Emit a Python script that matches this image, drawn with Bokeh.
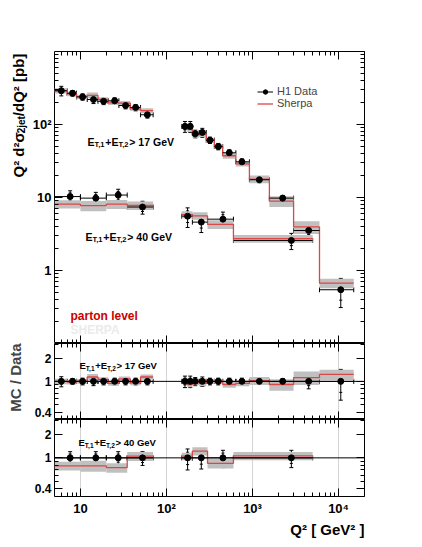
import math
from bokeh.plotting import figure
from bokeh.models import (Range1d, LogAxis, FixedTicker, CustomJSTickFormatter, Label, Span,
                          Whisker, TeeHead, ColumnDataSource, Legend, LegendItem, Title)
from bokeh.layouts import column, row
from bokeh.embed import file_html
from bokeh.resources import INLINE

# ---------------- data ----------------
# E_T1+E_T2 > 17 GeV, low Q2
edges17_lo = [5, 7, 9, 12, 16, 21, 28, 38, 50, 70]
q17_lo = [6.0, 8.1, 10.6, 14.2, 18.6, 25.0, 33.5, 43.8, 60.0]
data17_lo = [290, 268, 239, 220, 208, 211, 182, 171, 136]
err17_lo = [0.15, 0.09, 0.10, 0.12, 0.10, 0.10, 0.10, 0.10, 0.10]
stat17_lo = [0.08, 0.05, 0.06, 0.07, 0.06, 0.06, 0.06, 0.06, 0.06]
ratio17_lo = [1.0, 0.98, 1.0, 1.14, 1.06, 0.94, 1.08, 0.96, 1.14]
band17_lo = [0.08, 0.07, 0.07, 0.09, 0.07, 0.07, 0.07, 0.07, 0.08]

# E_T1+E_T2 > 17 GeV, high Q2
edges17_hi = [150, 175, 200, 240, 290, 360, 450, 640, 920, 1570, 3000, 6000, 15000]
q17_hi = [164, 189, 216, 261, 320, 400, 537, 753, 1200, 2240, 4490, 10600]
data17_hi = [94, 94, 74.6, 77.7, 61, 50, 41, 30.8, 17.5, 9.8, 3.53, 0.545]
err17_hi = [0.17, 0.17, 0.12, 0.14, 0.10, 0.10, 0.10, 0.10, 0.09, 0.09, 0.20, 0.43]
stat17_hi = [0.10, 0.10, 0.07, 0.08, 0.06, 0.06, 0.06, 0.06, 0.05, 0.05, 0.12, 0.28]
ratio17_hi = [1.0, 0.91, 0.97, 0.94, 1.0, 1.0, 0.91, 0.94, 1.02, 0.91, 1.12, 1.23]
band17_hi = [0.08, 0.08, 0.08, 0.08, 0.07, 0.07, 0.09, 0.08, 0.12, 0.17, 0.20, 0.15]

# E_T1+E_T2 > 40 GeV, low Q2
edges40_lo = [5, 10, 20, 35, 70]
q40_lo = [7.6, 15.1, 27.5, 52.7]
data40_lo = [10.3, 9.8, 10.8, 7.4]
err40_lo = [0.20, 0.20, 0.20, 0.20]
stat40_lo = [0.12, 0.12, 0.12, 0.13]
ratio40_lo = [0.79, 0.79, 0.75, 1.05]
band40_lo = [0.13, 0.16, 0.14, 0.13]

# E_T1+E_T2 > 40 GeV, high Q2
edges40_hi = [150, 200, 300, 600, 5000]
q40_hi = [176, 254, 453, 2825]
data40_hi = [5.55, 4.6, 5.05, 2.58]
err40_hi = [0.30, 0.28, 0.25, 0.25]
stat40_hi = [0.18, 0.17, 0.15, 0.15]
ratio40_hi = [1.05, 1.22, 0.85, 1.06]
band40_hi = [0.11, 0.12, 0.14, 0.12]

series = [
    (edges17_lo, q17_lo, data17_lo, err17_lo, stat17_lo, ratio17_lo, band17_lo, 1),
    (edges17_hi, q17_hi, data17_hi, err17_hi, stat17_hi, ratio17_hi, band17_hi, 1),
    (edges40_lo, q40_lo, data40_lo, err40_lo, stat40_lo, ratio40_lo, band40_lo, 2),
    (edges40_hi, q40_hi, data40_hi, err40_hi, stat40_hi, ratio40_hi, band40_hi, 2),
]

x_major = [10, 100, 1000, 10000]
x_minor = [6, 7, 8, 9, 20, 30, 40, 50, 60, 70, 80, 90, 200, 300, 400, 500, 600, 700, 800, 900,
           2000, 3000, 4000, 5000, 6000, 7000, 8000, 9000, 20000]
x_labels = {10: "10", 100: "10²", 1000: "10³", 10000: "10⁴"}
y_major = [1, 10, 100]
y_minor = [0.2, 0.3, 0.4, 0.5, 0.6, 0.7, 0.8, 0.9, 2, 3, 4, 5, 6, 7, 8, 9,
           20, 30, 40, 50, 60, 70, 80, 90, 200, 300, 400, 500, 600, 700, 800, 900]
y_labels = {1: "1", 10: "10", 100: "10²"}
r_major = [0.4, 1, 2]
r_minor = [0.4, 0.5, 0.6, 0.7, 0.8, 0.9, 2, 3]
r_labels = {0.4: "0.4", 1: "1", 2: "2"}

RED = "#dd4646"
GREY = "#c0c0c0"
FONT = "Liberation Sans"

# Arial-bold advance widths (per 1000 em) for composing sub/superscripted labels
ADV = {'E': 667, 'T': 611, ',': 278, '1': 556, '2': 556, '+': 584, ' ': 278, '>': 584,
       '7': 556, '4': 556, '0': 556, 'G': 778, 'e': 556, 'V': 667, 'Q': 778, 'd': 611,
       'σ': 610, '/': 278, '[': 333, ']': 333, 'p': 611, 'b': 611, 'j': 278, 't': 333, '²': 333}


def tw(s, size):
    return sum(ADV.get(c, 556) for c in s) * size / 1000.0


def rich_label(p, x, y, pieces, size, sub_size, angle=0.0, baseline="alphabetic", color="black"):
    off = 0.0
    for text, sub in pieces:
        fs = sub_size if sub else size
        drop = 2.5 if sub else 0.0
        kw = dict(x=x, y=y, x_units="screen", y_units="screen", text=text,
                  text_font=FONT, text_font_style="bold", text_font_size=f"{fs}px",
                  text_color=color, text_align="left", text_baseline=baseline)
        if angle == 0:
            lab = Label(x_offset=off, y_offset=-drop, **kw)
        else:
            lab = Label(x_offset=drop, y_offset=off, angle=angle, **kw)
        p.add_layout(lab)
        off += tw(text, fs)


x_range = Range1d(5, 20000)
STRIP_W = 29
TOP = 51
MAIN_H = 292
R1_H = 76
R2_H = 77
BOTTOM = 45
TOTAL_H = TOP + MAIN_H + R1_H + R2_H + BOTTOM


def style_axis(ax, major, minor, labels, show, maj=8, mnr=4, fs="13px"):
    ax.ticker = FixedTicker(ticks=major, minor_ticks=minor)
    ax.major_tick_in = maj
    ax.major_tick_out = 0
    ax.minor_tick_in = mnr
    ax.minor_tick_out = 0
    ax.axis_line_color = None
    ax.major_tick_line_color = "black"
    ax.minor_tick_line_color = "black"
    if show:
        ax.major_label_overrides = labels
        ax.major_label_text_font = FONT
        ax.major_label_text_font_style = "bold"
        ax.major_label_text_font_size = fs
        ax.major_label_text_color = "black"
        ax.major_label_standoff = 3
    else:
        ax.formatter = CustomJSTickFormatter(code="return ''")
        ax.major_label_text_font_size = "0px"
        ax.major_label_standoff = 0


def make_fig(yr, fh, top, bottom, ymaj, ymin, ylab, show_x, grid, yfs="13px"):
    p = figure(x_axis_type="log", y_axis_type="log", x_range=x_range, y_range=yr,
               frame_width=310, frame_height=fh, output_backend="svg", toolbar_location=None,
               min_border=0, min_border_left=52 - STRIP_W, min_border_right=12,
               min_border_top=top, min_border_bottom=bottom)
    p.outline_line_color = "black"
    p.outline_line_alpha = 1
    p.outline_line_width = 1
    p.background_fill_color = "white"
    p.border_fill_color = "white"
    p.ygrid.grid_line_color = None
    if grid:
        p.xgrid.ticker = FixedTicker(ticks=x_major)
        p.xgrid.grid_line_color = "#d4d4d4"
    else:
        p.xgrid.grid_line_color = None
    style_axis(p.xaxis[0], x_major, x_minor, x_labels, show_x)
    if show_x:
        p.xaxis[0].major_label_standoff = 4
    style_axis(p.yaxis[0], ymaj, ymin, ylab, True, fs=yfs)
    top_ax = LogAxis()
    style_axis(top_ax, x_major, x_minor, x_labels, False)
    p.add_layout(top_ax, "above")
    right_ax = LogAxis()
    style_axis(right_ax, ymaj, ymin, ylab, False)
    p.add_layout(right_ax, "right")
    return p


def draw(p, edges, q, yv, err, stat, mc, band):
    n = len(q)
    left = edges[:-1]
    right = edges[1:]
    p.quad(left=left, right=right, bottom=[m * (1 - b) for m, b in zip(mc, band)],
           top=[m * (1 + b) for m, b in zip(mc, band)], fill_color=GREY, line_color=None)
    xs, ys = [], []
    for i in range(n):
        xs += [left[i], right[i]]
        ys += [mc[i], mc[i]]
    mc_line = p.line(xs, ys, line_color=RED, line_width=1.3)
    src = ColumnDataSource(dict(
        q=q, y=yv, l=left, r=right,
        lo=[v * (1 - e) for v, e in zip(yv, err)], hi=[v * (1 + e) for v, e in zip(yv, err)],
        slo=[v * (1 - s) for v, s in zip(yv, stat)], shi=[v * (1 + s) for v, s in zip(yv, stat)]))
    p.add_layout(Whisker(source=src, base="q", lower="lo", upper="hi", dimension="height",
                         line_color="black", line_width=1,
                         lower_head=TeeHead(size=4, line_color="black", line_width=1),
                         upper_head=TeeHead(size=4, line_color="black", line_width=1)))
    p.add_layout(Whisker(source=src, base="q", lower="slo", upper="shi", dimension="height",
                         line_alpha=0,
                         lower_head=TeeHead(size=3, line_color="black", line_width=1),
                         upper_head=TeeHead(size=3, line_color="black", line_width=1)))
    hseg = p.segment(x0="l", y0="y", x1="r", y1="y", source=src, line_color="black", line_width=1)
    p.add_layout(Whisker(source=src, base="y", lower="l", upper="r", dimension="width",
                         line_alpha=0,
                         lower_head=TeeHead(size=5, line_color="black", line_width=1),
                         upper_head=TeeHead(size=5, line_color="black", line_width=1)))
    dots = p.scatter(x="q", y="y", source=src, size=6, color="black")
    return hseg, dots, mc_line


# ---------------- main panel ----------------
pm = make_fig(Range1d(0.1, 1000), MAIN_H, TOP, 0, y_major, y_minor, y_labels, False, False)
leg_parts = None
for edges, q, yv, err, stat, ratio, band, _ in series:
    mc = [v * r for v, r in zip(yv, ratio)]
    parts = draw(pm, edges, q, yv, err, stat, mc, band)
    if leg_parts is None:
        leg_parts = parts

legend = Legend(items=[LegendItem(label="H1 Data", renderers=[leg_parts[0], leg_parts[1]]),
                       LegendItem(label="Sherpa", renderers=[leg_parts[2]])],
                location=(203, 234), orientation="vertical",
                background_fill_alpha=0, border_line_color=None,
                label_text_font=FONT, label_text_font_size="11px",
                glyph_width=16, glyph_height=11, label_height=11, label_standoff=4,
                spacing=0, padding=0, margin=0)
pm.add_layout(legend)

rich_label(pm, 33, 202, [("E", False), ("T,1", True), ("+E", False), ("T,2", True), (" > 17 GeV", False)],
           10.5, 7.5)
rich_label(pm, 31, 107, [("E", False), ("T,1", True), ("+E", False), ("T,2", True), (" > 40 GeV", False)],
           10.5, 7.5)
pm.add_layout(Label(x=16, y=28, x_units="screen", y_units="screen", text="parton level",
                    text_font=FONT, text_font_style="bold", text_font_size="12px",
                    text_color="#cc0000", text_baseline="middle"))
pm.add_layout(Label(x=16, y=14, x_units="screen", y_units="screen", text="SHERPA",
                    text_font=FONT, text_font_style="bold", text_font_size="12px",
                    text_color="#ebebeb", text_baseline="middle"))

# ---------------- ratio panels ----------------
ratio_figs = []
for k, (fh, bottom, show_x) in enumerate([(R1_H, 0, False), (R2_H, BOTTOM, True)]):
    pr = make_fig(Range1d(0.32, 3.1), fh, 0, bottom, r_major, r_minor, r_labels, show_x, True,
                  yfs="12px")
    pr.add_layout(Span(location=1, dimension="width", line_color="black", line_width=1))
    for edges, q, yv, err, stat, ratio, band, grp in series:
        if grp != k + 1:
            continue
        ones = [1.0] * len(q)
        draw(pr, edges, q, ones, err, stat, ratio, band)
    ratio_figs.append(pr)

r1, r2 = ratio_figs
rich_label(r1, 25, 54, [("E", False), ("T,1", True), ("+E", False), ("T,2", True), (" > 17 GeV", False)],
           9.5, 6.5)
rich_label(r2, 24, 54, [("E", False), ("T,1", True), ("+E", False), ("T,2", True), (" > 40 GeV", False)],
           9.5, 6.5)
r2.add_layout(Title(text="Q² [ GeV² ]", align="right", text_font=FONT, text_font_style="bold",
                    text_font_size="15px", text_color="black", standoff=0), "below")

# ---------------- left strip with the rotated axis titles ----------------
strip = figure(frame_width=STRIP_W, frame_height=TOTAL_H, x_range=Range1d(0, 1), y_range=Range1d(0, 1),
               x_axis_location=None, y_axis_location=None, output_backend="svg",
               toolbar_location=None, min_border=0)
strip.grid.visible = False
strip.outline_line_color = None
strip.background_fill_color = "white"
strip.border_fill_color = "white"
rich_label(strip, 18, TOTAL_H - 177, [("Q² d²σ", False), ("2jet", True), ("/dQ² [pb]", False)],
           15, 10, angle=math.pi / 2, baseline="middle")
strip.add_layout(Label(x=15, y=TOTAL_H - 377, x_units="screen", y_units="screen", text="MC / Data",
                       angle=math.pi / 2, text_font=FONT, text_font_style="bold", text_font_size="15px",
                       text_align="center", text_baseline="middle"))

layout = row(strip, column(pm, r1, r2, spacing=0), spacing=0)
open("out.html", "w").write(file_html(layout, INLINE))
